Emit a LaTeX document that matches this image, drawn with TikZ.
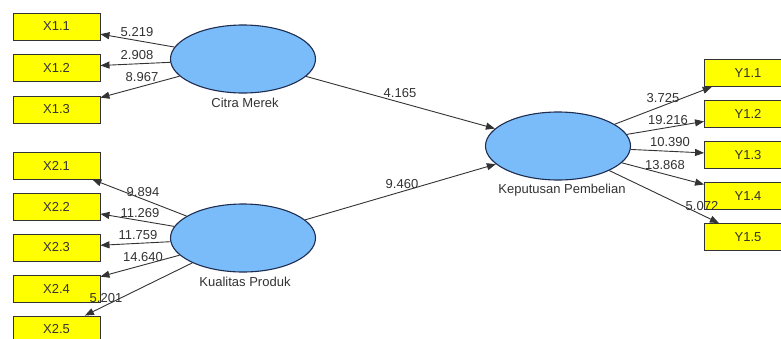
\documentclass[tikz,border=0pt]{standalone}
\usepackage{fontspec}
\setmainfont{Liberation Sans}
\usetikzlibrary{shapes.geometric,arrows.meta}
\definecolor{latfill}{RGB}{122,188,250}
\definecolor{latline}{RGB}{30,45,80}
\definecolor{boxfill}{RGB}{255,255,0}
\definecolor{ink}{RGB}{51,51,51}
\tikzset{
  indicator/.style={rectangle, draw=ink, line width=0.9pt, fill=boxfill,
    minimum width=87, minimum height=27, inner sep=0pt,
    font=\fontsize{13}{14}\selectfont, text=ink},
  latent/.style={ellipse, draw=latline, line width=1.1pt, fill=latfill,
    minimum width=145, minimum height=68, inner sep=0pt},
  latname/.style={font=\fontsize{13}{14}\selectfont, text=ink, inner sep=0pt},
  weight/.style={font=\fontsize{13}{14}\selectfont, text=ink, inner sep=0pt},
  link/.style={draw=ink, line width=0.9pt, -{Triangle[length=9pt,width=7pt]}}
}
\begin{document}
\begin{tikzpicture}[x=1pt,y=-1pt]
  \useasboundingbox (0,0) rectangle (781,338);
  \fill[white] (0,0) rectangle (781,338);
  \clip (0,0) rectangle (781,338);

  % latent variables
  \node[latent] (cm) at (243,59) {};
  \node[latent] (kp) at (243,238) {};
  \node[latent] (kpb) at (558,146) {};
  \node[latname] (cmname) at (245,103) {Citra Merek};
  \node[latname] (kpname) at (245,282) {Kualitas Produk};
  \node[latname] (kpbname) at (562,190) {Keputusan Pembelian};

  % indicators of Citra Merek
  \node[indicator] (x11) at (56.5,26.5) {X1.1};
  \node[indicator] (x12) at (56.5,67.5) {X1.2};
  \node[indicator] (x13) at (56.5,109.5) {X1.3};

  % indicators of Kualitas Produk
  \node[indicator] (x21) at (56.5,165.5) {X2.1};
  \node[indicator] (x22) at (56.5,206.5) {X2.2};
  \node[indicator] (x23) at (56.5,247.5) {X2.3};
  \node[indicator] (x24) at (56.5,288.5) {X2.4};
  \node[indicator] (x25) at (56.5,329.5) {X2.5};

  % indicators of Keputusan Pembelian
  \node[indicator] (y11) at (748,73) {Y1.1};
  \node[indicator] (y12) at (748,114) {Y1.2};
  \node[indicator] (y13) at (748,155) {Y1.3};
  \node[indicator] (y14) at (748,196) {Y1.4};
  \node[indicator] (y15) at (748,237) {Y1.5};

  % outer loadings
  \draw[link] (cm) -- (x11);
  \draw[link] (cm) -- (x12);
  \draw[link] (cm) -- (x13);
  \draw[link] (kp) -- (x21);
  \draw[link] (kp) -- (x22);
  \draw[link] (kp) -- (x23);
  \draw[link] (kp) -- (x24);
  \draw[link] (kp) -- (x25);
  \draw[link] (kpb) -- (y11);
  \draw[link] (kpb) -- (y12);
  \draw[link] (kpb) -- (y13);
  \draw[link] (kpb) -- (y14);
  \draw[link] (kpb) -- (y15);

  % structural paths
  \draw[link] (cm) -- (kpb);
  \draw[link] (kp) -- (kpb);

  % t-statistics
  \node[weight] (t11) at (137,32) {5.219};
  \node[weight] (t12) at (137,55) {2.908};
  \node[weight] (t13) at (142,77) {8.967};
  \node[weight] (t21) at (143,192) {9.894};
  \node[weight] (t22) at (140,213) {11.269};
  \node[weight] (t23) at (138,235) {11.759};
  \node[weight] (t24) at (143,257) {14.640};
  \node[weight] (t25) at (106,298) {5.201};
  \node[weight] (ty1) at (663,98) {3.725};
  \node[weight] (ty2) at (668,120) {19.216};
  \node[weight] (ty3) at (670,142) {10.390};
  \node[weight] (ty4) at (665,165) {13.868};
  \node[weight] (ty5) at (702,206) {5.072};
  \node[weight] (tcm) at (400,93) {4.165};
  \node[weight] (tkp) at (402,184) {9.460};
\end{tikzpicture}
\end{document}
